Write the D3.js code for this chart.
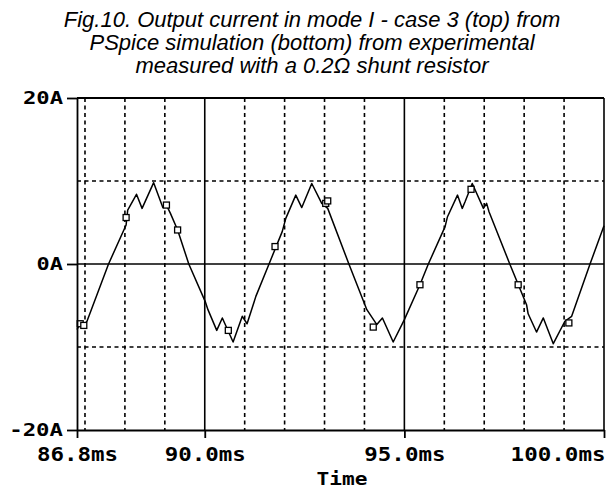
<!DOCTYPE html>
<html>
<head>
<meta charset="utf-8">
<script src="https://cdn.jsdelivr.net/npm/d3@7"></script>
<style>
  body { margin: 0; background: #fff; }
  .title { font-family: "Liberation Sans", Arial, sans-serif; font-style: italic; font-size: 22px; }
  .lbl { font-family: "DejaVu Sans Mono", monospace; font-weight: bold; }
</style>
</head>
<body>
<div id="d3"></div>
<script>
// title lines
var titleLines = [
  "Fig.10. Output current in mode I - case 3 (top) from",
  "PSpice simulation (bottom) from experimental",
  "measured with a 0.2\u03A9 shunt resistor"
];

// trace: time (ms) and current (A)
var timeMs = [86.80, 86.90, 86.97, 87.05, 87.59, 88.03, 88.07, 88.29, 88.43, 88.72,
  88.95, 89.04, 89.14, 89.32, 89.60, 90.01, 90.08, 90.30, 90.44, 90.71,
  90.94, 91.06, 91.28, 91.61, 91.94, 92.03, 92.28, 92.43, 92.68, 92.93,
  93.08, 93.61, 94.06, 94.31, 94.45, 94.72, 95.00, 95.39, 95.60, 96.02,
  96.08, 96.33, 96.45, 96.52, 96.70, 96.98, 97.06, 97.12, 97.64, 98.06,
  98.10, 98.31, 98.48, 98.73, 99.02, 99.19, 99.65, 100.00];
var currentA = [-7.9, -6.9, -7.4, -6.9, 0.0, 4.7, 6.5, 8.4, 6.7, 9.8,
  6.8, 7.1, 6.1, 4.1, 0.0, -4.5, -5.5, -8.0, -6.5, -9.4,
  -6.3, -7.2, -3.9, 0.0, 3.9, 5.5, 8.3, 6.8, 9.7, 7.3,
  6.7, 0.0, -5.5, -7.3, -6.5, -9.4, -6.7, -2.5, 0.0, 4.5,
  5.7, 8.3, 6.7, 7.5, 9.7, 6.7, 7.3, 6.3, 0.0, -4.9,
  -6.0, -8.2, -6.5, -9.6, -6.9, -6.3, 0.0, 4.6];

// square markers on the trace
var markerT = [86.88, 86.97, 88.03, 89.04, 89.32, 90.59, 91.76, 93.03, 93.08, 94.22, 95.39, 96.67, 97.85, 99.12];
var markerI = [-7.2, -7.4, 5.6, 7.1, 4.1, -8.0, 2.1, 7.3, 7.6, -7.6, -2.5, 9.0, -2.5, -7.1];

// axes
var xTickValues = [86.8, 90, 95, 100];
var xTickLabels = ["86.8ms", "90.0ms", "95.0ms", "100.0ms"];
var yTickValues = [-20, 0, 20];
var yTickLabels = ["-20A", "0A", "20A"];
var xMajorGrid = [90, 95];
var xMinorGrid = [87, 88, 89, 91, 92, 93, 94, 96, 97, 98, 99];
var yMajorGrid = [0];
var yMinorGrid = [-10, 10];
var xTitle = "Time";

// setup canvas
var svg_width = 606;
var svg_height = 488;
var svg = d3.select("#d3").append("svg")
  .attr("width", svg_width)
  .attr("height", svg_height);
var margin = {top: 98, right: 2, bottom: 58, left: 77};

var x = d3.scaleLinear()
  .domain([86.8, 100])
  .range([margin.left, svg_width - margin.right]);
var y = d3.scaleLinear()
  .domain([-20, 20])
  .range([svg_height - margin.bottom, margin.top]);

// title
svg.append("g").selectAll("text")
  .data(titleLines)
  .enter().append("text")
    .attr("class", "title")
    .attr("x", 312)
    .attr("y", function(d, i) { return 27 + i * 23; })
    .attr("text-anchor", "middle")
    .text(function(d) { return d; });

// grid
var grid = svg.append("g").attr("stroke", "#000").attr("fill", "none");
grid.selectAll(".vmin").data(xMinorGrid).enter().append("line")
  .attr("x1", function(d) { return x(d); }).attr("x2", function(d) { return x(d); })
  .attr("y1", y(20)).attr("y2", y(-20))
  .attr("stroke-width", 1.6).attr("stroke-dasharray", "4,3.5");
grid.selectAll(".hmin").data(yMinorGrid).enter().append("line")
  .attr("x1", x(86.8)).attr("x2", x(100))
  .attr("y1", function(d) { return y(d); }).attr("y2", function(d) { return y(d); })
  .attr("stroke-width", 1.6).attr("stroke-dasharray", "4,3.5");
grid.selectAll(".vmaj").data(xMajorGrid).enter().append("line")
  .attr("x1", function(d) { return x(d); }).attr("x2", function(d) { return x(d); })
  .attr("y1", y(20)).attr("y2", y(-20))
  .attr("stroke-width", 1.6);
grid.selectAll(".hmaj").data(yMajorGrid).enter().append("line")
  .attr("x1", x(86.8)).attr("x2", x(100))
  .attr("y1", function(d) { return y(d); }).attr("y2", function(d) { return y(d); })
  .attr("stroke-width", 1.6);

// trace
var line = d3.line()
  .x(function(d) { return x(d[0]); })
  .y(function(d) { return y(d[1]); });
svg.append("path")
  .datum(d3.zip(timeMs, currentA))
  .attr("fill", "none")
  .attr("stroke", "#000")
  .attr("stroke-width", 1.5)
  .attr("stroke-linejoin", "round")
  .attr("d", line);

svg.append("g").selectAll("rect")
  .data(d3.zip(markerT, markerI))
  .enter().append("rect")
    .attr("x", function(d) { return x(d[0]) - 3; })
    .attr("y", function(d) { return y(d[1]) - 3; })
    .attr("width", 6)
    .attr("height", 6)
    .attr("fill", "#fff")
    .attr("stroke", "#000")
    .attr("stroke-width", 1.3);

// border top / right
svg.append("line")
  .attr("x1", x(86.8)).attr("x2", x(100))
  .attr("y1", y(20)).attr("y2", y(20))
  .attr("stroke", "#000").attr("stroke-width", 1.8);
svg.append("line")
  .attr("x1", x(100)).attr("x2", x(100))
  .attr("y1", y(20)).attr("y2", y(-20))
  .attr("stroke", "#000").attr("stroke-width", 1.6);

// y-axis
var yAxis = svg.append("g")
  .attr("transform", "translate(" + margin.left + ",0)")
  .call(d3.axisLeft(y)
    .tickValues(yTickValues)
    .tickSize(10)
    .tickSizeOuter(0)
    .tickPadding(4)
    .tickFormat(function(d, i) { return yTickLabels[i]; }));
yAxis.selectAll("path, line").attr("stroke-width", 1.8);
yAxis.selectAll("text")
  .attr("class", "lbl")
  .attr("font-size", 18)
  .attr("fill", "#000")
  .attr("textLength", function(d, i) { return yTickLabels[i].length * 13.7 - 1; })
  .attr("lengthAdjust", "spacingAndGlyphs");

// x-axis
var xAxis = svg.append("g")
  .attr("transform", "translate(0," + y(-20) + ")")
  .call(d3.axisBottom(x)
    .tickValues(xTickValues)
    .tickSize(8)
    .tickSizeOuter(0)
    .tickPadding(10)
    .tickFormat(function(d, i) { return xTickLabels[i]; }));
xAxis.selectAll("path, line").attr("stroke-width", 1.8);
xAxis.selectAll("text")
  .attr("class", "lbl")
  .attr("font-size", 19)
  .attr("fill", "#000")
  .attr("textLength", function(d, i) { return xTickLabels[i].length * 13.7 - 1; })
  .attr("lengthAdjust", "spacingAndGlyphs")
  .attr("text-anchor", function(d, i) { return i == xTickLabels.length - 1 ? "end" : "middle"; })
  .attr("dx", function(d, i) { return i == xTickLabels.length - 1 ? 1 : 0; });

// x-axis title
svg.append("text")
  .attr("class", "lbl")
  .attr("x", 342)
  .attr("y", 485)
  .attr("font-size", 18)
  .attr("text-anchor", "middle")
  .attr("textLength", 51)
  .attr("lengthAdjust", "spacingAndGlyphs")
  .text(xTitle);
</script>
</body>
</html>
